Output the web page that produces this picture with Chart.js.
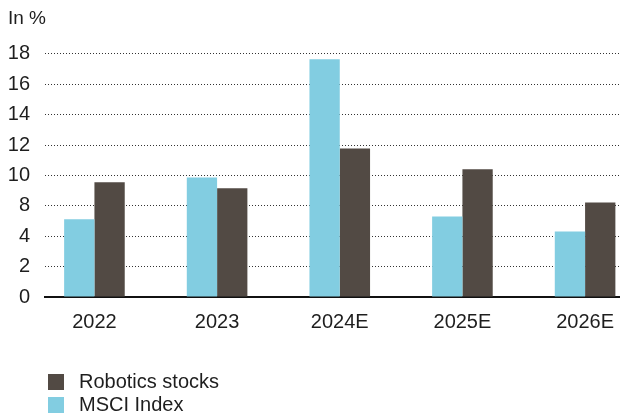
<!DOCTYPE html>
<html>
<head>
<meta charset="utf-8">
<script src="https://cdn.jsdelivr.net/npm/chart.js@4.4.1/dist/chart.umd.min.js"></script>
<style>
    html, body { margin: 0; padding: 0; background: #fff; overflow: hidden; }
    #wrap { position: relative; width: 627px; height: 414px; }
    #legend {
        position: absolute; left: 48px; top: 370px;
        font-family: "Liberation Sans", Arial, sans-serif; font-size: 20px; color: #1e1e1e;
    }
    .legend-row { display: flex; align-items: center; height: 23px; }
    .legend-box { width: 16px; height: 16px; margin-right: 15px; }
</style>
</head>
<body>
<div id="wrap">
    <canvas id="growthChart" width="627" height="414"></canvas>
    <div id="legend"></div>
</div>
<script>
// chart data
const years = ['2022', '2023', '2024E', '2025E', '2026E'];
const msciIndex = [5.75, 8.85, 17.6, 5.95, 4.85];
const roboticsStocks = [8.5, 8.05, 11.0, 9.45, 7.0];
const yTickLabels = ['0', '2', '4', '8', '10', '12', '14', '16', '18'];

const textColor = '#1e1e1e';
const font = { family: '"Liberation Sans", Arial, sans-serif', size: 20 };

function toPoints(values) {
    return values.map((v, i) => ({ x: i, y: v }));
}

const ctx = document.getElementById('growthChart').getContext('2d');

const growthChart = new Chart(ctx, {
    type: 'bar',
    data: {
        datasets: [
            {
                label: 'MSCI Index',
                data: toPoints(msciIndex),
                backgroundColor: '#82CDE1',
                barPercentage: 1,
                categoryPercentage: 0.494
            },
            {
                label: 'Robotics stocks',
                data: toPoints(roboticsStocks),
                backgroundColor: '#524A44',
                barPercentage: 1,
                categoryPercentage: 0.494
            }
        ]
    },
    options: {
        responsive: false,
        animation: false,
        layout: {
            padding: { left: 8, right: 0, top: 0, bottom: 67 }
        },
        plugins: {
            legend: { display: false },
            tooltip: { enabled: false },
            title: {
                display: true,
                text: 'In %',
                align: 'start',
                color: textColor,
                font: { family: font.family, size: 19, weight: 'normal' },
                padding: { top: 7, bottom: 24 }
            }
        },
        scales: {
            x: {
                type: 'linear',
                min: -0.403,
                max: 4.281,
                offset: false,
                z: 1,
                grid: { display: false, drawTicks: false, offset: false },
                border: { display: true, color: '#111', width: 2 },
                afterBuildTicks: function (scale) {
                    scale.ticks = years.map((_, i) => ({ value: i }));
                },
                ticks: {
                    color: textColor,
                    font: font,
                    padding: 13,
                    maxRotation: 0,
                    callback: function (value) {
                        return years[value];
                    }
                }
            },
            y: {
                min: 0,
                max: 18,
                afterFit: function (scale) {
                    scale.width = 37;
                },
                afterBuildTicks: function (scale) {
                    scale.ticks = yTickLabels.map((_, i) => ({ value: i * 18 / (yTickLabels.length - 1) }));
                },
                grid: { color: '#333', lineWidth: 1, drawTicks: false },
                border: { display: false, dash: [1, 2] },
                ticks: {
                    color: textColor,
                    font: font,
                    padding: 15,
                    callback: function (value, index) {
                        return yTickLabels[index];
                    }
                }
            }
        }
    }
});

// html legend, robotics first
const legendEl = document.getElementById('legend');
growthChart.data.datasets.slice().reverse().forEach(ds => {
    const row = document.createElement('div');
    row.className = 'legend-row';
    const box = document.createElement('span');
    box.className = 'legend-box';
    box.style.background = ds.backgroundColor;
    const label = document.createElement('span');
    label.textContent = ds.label;
    row.appendChild(box);
    row.appendChild(label);
    legendEl.appendChild(row);
});
</script>
</body>
</html>
